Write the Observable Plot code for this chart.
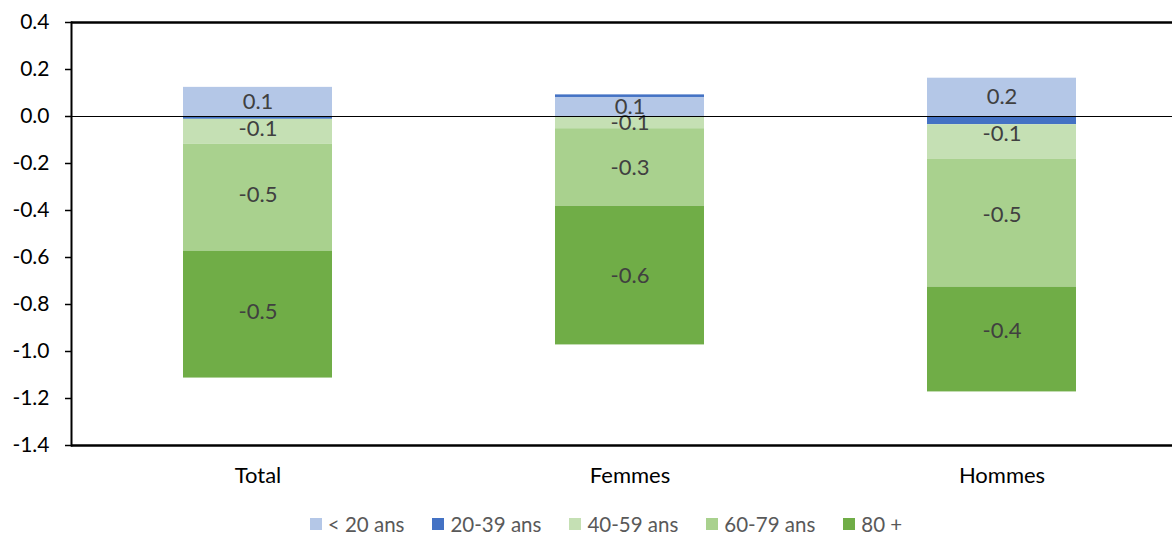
<!DOCTYPE html>
<html>
<head>
<meta charset="utf-8">
<script src="https://cdn.jsdelivr.net/npm/d3@7"></script>
<script src="https://cdn.jsdelivr.net/npm/@observablehq/plot@0.6"></script>
<style>
  body { margin: 0; background: #fff; font-family: Lato, "Open Sans", sans-serif; overflow: hidden; }
  #chart svg { display: block; }
  #legend { display: flex; justify-content: center; gap: 28px; font-size: 20.5px; color: #595959; margin-top: 20px; padding-left: 40px; line-height: 18px; height: 18px; }
  #legend span.item { display: inline-flex; align-items: center; gap: 6px; }
  #legend span.sw { width: 12px; height: 12px; display: inline-block; }
</style>
</head>
<body>
<div id="chart"></div>
<div id="legend"></div>
<script>
const categories = ["Total", "Femmes", "Hommes"];
const series = ["< 20 ans", "20-39 ans", "40-59 ans", "60-79 ans", "80 +"];
const colors = ["#B4C7E7", "#4472C4", "#C5E0B4", "#A9D18E", "#70AD47"];
// values per series, in category order (Total, Femmes, Hommes)
const under20 = [0.124, 0.081, 0.163];
const age20_39 = [-0.012, 0.011, -0.035];
const age40_59 = [-0.106, -0.052, -0.146];
const age60_79 = [-0.455, -0.330, -0.545];
const age80plus = [-0.540, -0.590, -0.446];
const yTicks = [0.4, 0.2, 0, -0.2, -0.4, -0.6, -0.8, -1.0, -1.2, -1.4];

const seriesValues = [under20, age20_39, age40_59, age60_79, age80plus];
const data = [];
series.forEach((s, i) => categories.forEach((c, j) => data.push({cat: c, series: s, value: seriesValues[i][j]})));

const fmt = v => v.toFixed(1);

const chart = Plot.plot({
  width: 1172,
  height: 495,
  marginLeft: 71,
  marginRight: 0,
  marginTop: 22,
  marginBottom: 50,
  style: {fontFamily: "Lato, 'Open Sans', sans-serif", fontSize: "21px", color: "#000"},
  x: {domain: categories, range: [71, 1187], paddingInner: 0.6, paddingOuter: 0.3, label: null},
  y: {domain: [-1.4, 0.4], label: null},
  color: {domain: series, range: colors},
  marks: [
    Plot.barY(data, {x: "cat", y: "value", fill: "series", order: series}),
    Plot.text(data.filter(d => d.series !== "20-39 ans"), Plot.stackY({x: "cat", y: "value", z: "series", order: series, text: d => fmt(d.value), fill: "#404040", fontSize: 22})),
    Plot.ruleY([0], {stroke: "#000", strokeWidth: 1.2}),
    Plot.ruleY([0.4, -1.4], {stroke: "#000", strokeWidth: 2.5}),
    Plot.frame({anchor: "left", stroke: "#000", strokeWidth: 2}),
    Plot.axisY({ticks: yTicks, tickFormat: fmt, tickSize: 6, tickPadding: 16, fontSize: 21, stroke: "#000", strokeWidth: 1.5, label: null}),
    Plot.axisX({tickSize: 0, tickPadding: 22, fontSize: 22, label: null})
  ]
});
document.getElementById("chart").appendChild(chart);

const legend = document.getElementById("legend");
series.forEach((s, i) => {
  const item = document.createElement("span");
  item.className = "item";
  const sw = document.createElement("span");
  sw.className = "sw";
  sw.style.background = colors[i];
  item.appendChild(sw);
  item.appendChild(document.createTextNode(s));
  legend.appendChild(item);
});
</script>
</body>
</html>
